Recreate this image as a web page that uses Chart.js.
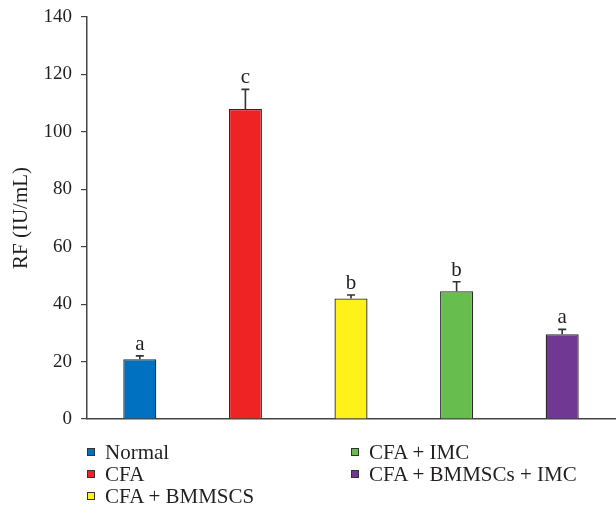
<!DOCTYPE html>
<html>
<head>
<meta charset="utf-8">
<script src="https://cdn.jsdelivr.net/npm/chart.js@4/dist/chart.umd.min.js"></script>
<style>
  html, body { margin: 0; padding: 0; background: #fff; }
  #wrap { position: relative; width: 616px; height: 513px; }
  #rf-chart { position: absolute; left: 0; top: 0; }
  #legend {
    position: absolute; left: 87px; top: 441px;
    display: grid; grid-template-rows: repeat(3, 22px); grid-auto-flow: column;
    grid-template-columns: 264px 260px;
    font-family: 'Liberation Serif', 'Times New Roman', serif; font-size: 21px; color: #231f20;
  }
  .item { display: flex; align-items: center; white-space: nowrap; line-height: 22px; }
  .swatch { width: 6px; height: 6px; border: 1px solid #333; margin-right: 10px; flex: none; }
</style>
</head>
<body>
<div id="wrap">
  <canvas id="rf-chart" width="616" height="513"></canvas>
  <div id="legend"></div>
</div>
<script>
const categories = ['Normal', 'CFA', 'CFA + BMMSCS', 'CFA + IMC', 'CFA + BMMSCs + IMC'];
const rfMeans = [20.8, 108.0, 42.0, 44.5, 29.5];
const rfErrors = [1.2, 6.8, 1.2, 3.3, 1.7];
const sigLetters = ['a', 'c', 'b', 'b', 'a'];
const yTicks = [0, 20, 40, 60, 80, 100, 120, 140];

const BAR_COLORS = ['#0070C0', '#EE2424', '#FFF21A', '#67BD4E', '#703892'];
const INK = '#231f20';
const FONT = "'Liberation Serif', 'Times New Roman', serif";

// error bars + significance letters
const errorBars = {
  id: 'errorBars',
  afterDatasetsDraw(chart) {
    const { ctx } = chart;
    const meta = chart.getDatasetMeta(0);
    const y = chart.scales.y;
    ctx.save();
    ctx.strokeStyle = '#333';
    ctx.lineWidth = 1.6;
    ctx.fillStyle = INK;
    ctx.font = '21px ' + FONT;
    ctx.textAlign = 'center';
    ctx.textBaseline = 'alphabetic';
    meta.data.forEach((bar, i) => {
      const top = y.getPixelForValue(rfMeans[i] + rfErrors[i]);
      ctx.beginPath();
      ctx.moveTo(bar.x, bar.y);
      ctx.lineTo(bar.x, top);
      ctx.moveTo(bar.x - 4, top);
      ctx.lineTo(bar.x + 4, top);
      ctx.stroke();
      ctx.fillText(sigLetters[i], bar.x, top - 6);
    });
    ctx.restore();
  }
};

new Chart(document.getElementById('rf-chart'), {
  type: 'bar',
  data: {
    labels: categories,
    datasets: [{
      data: rfMeans,
      backgroundColor: BAR_COLORS,
      borderColor: '#2a2a2a',
      borderWidth: 1.3,
      categoryPercentage: 1,
      barPercentage: 0.313
    }]
  },
  options: {
    responsive: false,
    animation: false,
    layout: { padding: { top: 17, right: 1, bottom: 86, left: 0 } },
    plugins: { legend: { display: false }, tooltip: { enabled: false } },
    scales: {
      x: {
        grid: { display: false },
        border: { display: true, color: '#444', width: 1.5 },
        ticks: { display: false }
      },
      y: {
        min: 0, max: 140,
        afterBuildTicks: (s) => { s.ticks = yTicks.map(v => ({ value: v })); },
        afterFit: (s) => { s.width = 87; s.paddingTop = 0; s.paddingBottom = 0; },
        grid: { drawOnChartArea: false, drawTicks: true, tickLength: 6, color: '#444', lineWidth: 1.2 },
        border: { display: true, color: '#444', width: 1.5 },
        ticks: { color: INK, padding: 9, font: { family: FONT, size: 19 } },
        title: {
          display: true, text: 'RF (IU/mL)', color: INK,
          font: { family: FONT, size: 21, weight: 'normal' },
          padding: { top: 9, bottom: 0 }
        }
      }
    }
  },
  plugins: [errorBars]
});

document.getElementById('legend').innerHTML = categories.map((c, i) =>
  `<div class="item"><span class="swatch" style="background:${BAR_COLORS[i]}"></span>${c}</div>`
).join('');
</script>
</body>
</html>
